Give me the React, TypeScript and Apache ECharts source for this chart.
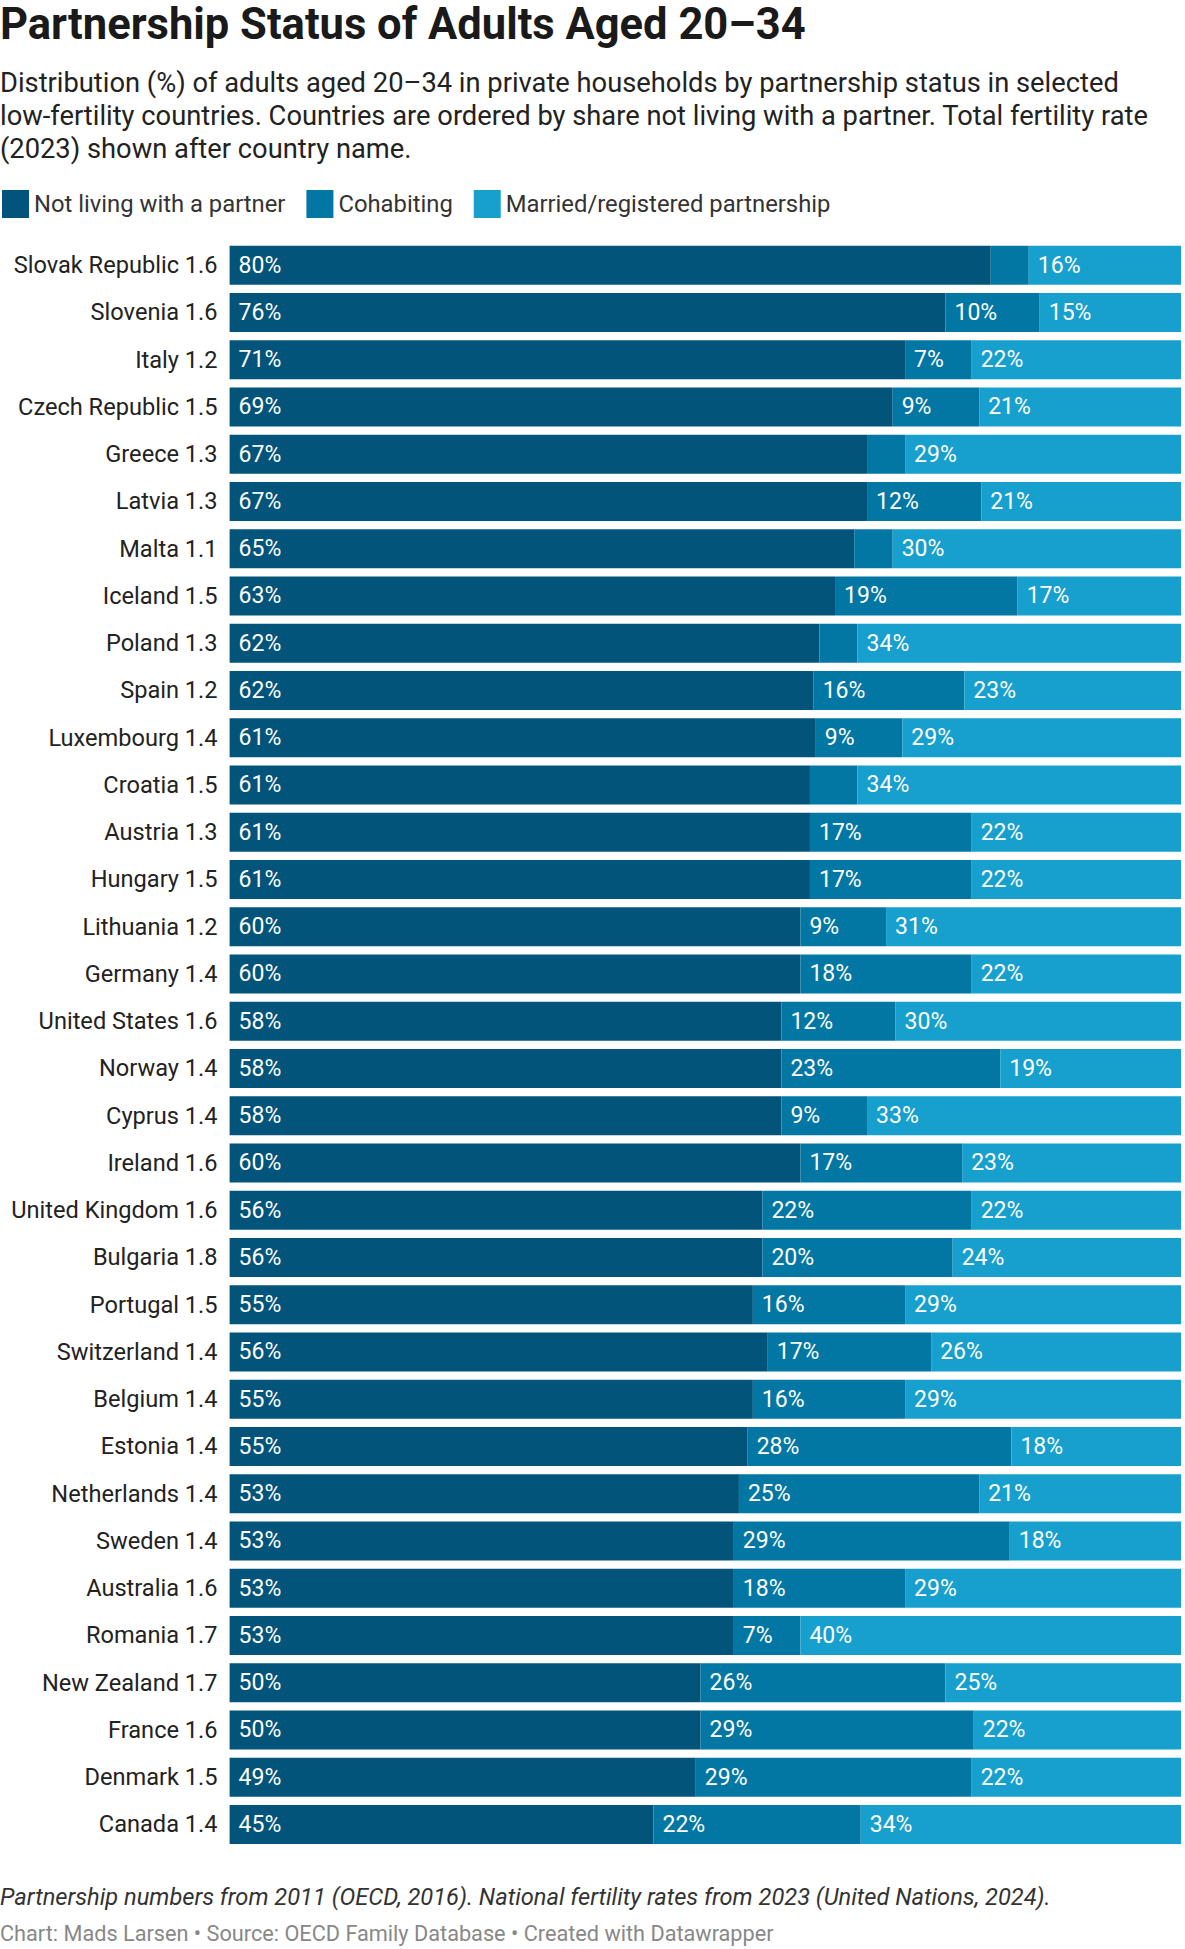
import React, { useEffect, useRef } from "react";
import * as echarts from "echarts";

const countries = [
  "Slovak Republic 1.6", "Slovenia 1.6", "Italy 1.2", "Czech Republic 1.5", "Greece 1.3",
  "Latvia 1.3", "Malta 1.1", "Iceland 1.5", "Poland 1.3", "Spain 1.2",
  "Luxembourg 1.4", "Croatia 1.5", "Austria 1.3", "Hungary 1.5", "Lithuania 1.2",
  "Germany 1.4", "United States 1.6", "Norway 1.4", "Cyprus 1.4", "Ireland 1.6",
  "United Kingdom 1.6", "Bulgaria 1.8", "Portugal 1.5", "Switzerland 1.4", "Belgium 1.4",
  "Estonia 1.4", "Netherlands 1.4", "Sweden 1.4", "Australia 1.6", "Romania 1.7",
  "New Zealand 1.7", "France 1.6", "Denmark 1.5", "Canada 1.4",
];

const notLiving = [80, 76, 71, 69, 67, 67, 65, 63, 62, 62, 61, 61, 61, 61, 60, 60, 58, 58, 58, 60, 56, 56, 55, 56, 55, 55, 53, 53, 53, 53, 50, 50, 49, 45];
const cohabiting = [4, 10, 7, 9, 4, 12, 4, 19, 4, 16, 9, 5, 17, 17, 9, 18, 12, 23, 9, 17, 22, 20, 16, 17, 16, 28, 25, 29, 18, 7, 26, 29, 29, 22];
const married = [16, 15, 22, 21, 29, 21, 30, 17, 34, 23, 29, 34, 22, 22, 31, 22, 30, 19, 33, 23, 22, 24, 29, 26, 29, 18, 21, 18, 29, 40, 25, 22, 22, 34];

const seriesNames = ["Not living with a partner", "Cohabiting", "Married/registered partnership"];
const colors = ["#02547A", "#0277A4", "#17A0CE"];

const FONT = "Roboto";

export default function App() {
  const ref = useRef<HTMLDivElement>(null);
  useEffect(() => {
    document.body.style.margin = "0";
    const chart = echarts.init(ref.current!, null, { renderer: "svg" });
    const raw = [notLiving, cohabiting, married];
    const sums = countries.map((_, i) => notLiving[i] + cohabiting[i] + married[i]);
    const series = raw.map((arr, s) => ({
      name: seriesNames[s],
      type: "bar",
      stack: "total",
      barWidth: 39,
      itemStyle: { color: colors[s] },
      data: arr.map((v, i) => (v / sums[i]) * 100),
      label: {
        show: true,
        position: "insideLeft",
        distance: 9,
        color: "#ffffff",
        fontFamily: FONT,
        fontSize: 23,
        formatter: (p: any) => {
          const v = arr[p.dataIndex];
          return v < 6 ? "" : v + "%";
        },
      },
    }));
    chart.setOption({
      animation: false,
      textStyle: { fontFamily: FONT },
      graphic: [
        {
          type: "text",
          left: 0,
          top: 2,
          style: {
            text: "Partnership Status of Adults Aged 20–34",
            fontFamily: FONT,
            fontWeight: "bold",
            fontSize: 43.5,
            fill: "#1a1a1a",
          },
        },
        {
          type: "text",
          left: 0,
          top: 66,
          style: {
            text:
              "Distribution (%) of adults aged 20–34 in private households by partnership status in selected\nlow-fertility countries. Countries are ordered by share not living with a partner. Total fertility rate\n(2023) shown after country name.",
            fontFamily: FONT,
            fontSize: 27.3,
            lineHeight: 33.3,
            fill: "#222222",
          },
        },
        {
          type: "text",
          left: 0,
          top: 1885,
          style: {
            text: "Partnership numbers from 2011 (OECD, 2016). National fertility rates from 2023 (United Nations, 2024).",
            fontFamily: FONT,
            fontStyle: "italic",
            fontSize: 23.65,
            fill: "#333333",
          },
        },
        {
          type: "text",
          left: 0,
          top: 1922,
          style: {
            text: "Chart: Mads Larsen • Source: OECD Family Database • Created with Datawrapper",
            fontFamily: FONT,
            fontSize: 21.7,
            fill: "#888888",
          },
        },
      ],
      legend: {
        left: 2,
        top: 190,
        padding: 0,
        itemWidth: 27,
        itemHeight: 28,
        itemGap: 21,
        icon: "rect",
        textStyle: { fontFamily: FONT, fontSize: 23.8, color: "#333333", padding: [0, 0, 0, 0] },
        data: seriesNames,
      },
      grid: { left: 229.6, right: 4, top: 241.6, height: 1606.5, containLabel: false },
      xAxis: { type: "value", min: 0, max: 100, show: false },
      yAxis: {
        type: "category",
        inverse: true,
        data: countries,
        axisLine: { show: false },
        axisTick: { show: false },
        splitLine: { show: false },
        axisLabel: { fontFamily: FONT, fontSize: 23.6, color: "#222222", margin: 12 },
      },
      series,
    });
    return () => chart.dispose();
  }, []);
  return <div ref={ref} style={{ width: 1185, height: 1949 }} />;
}
